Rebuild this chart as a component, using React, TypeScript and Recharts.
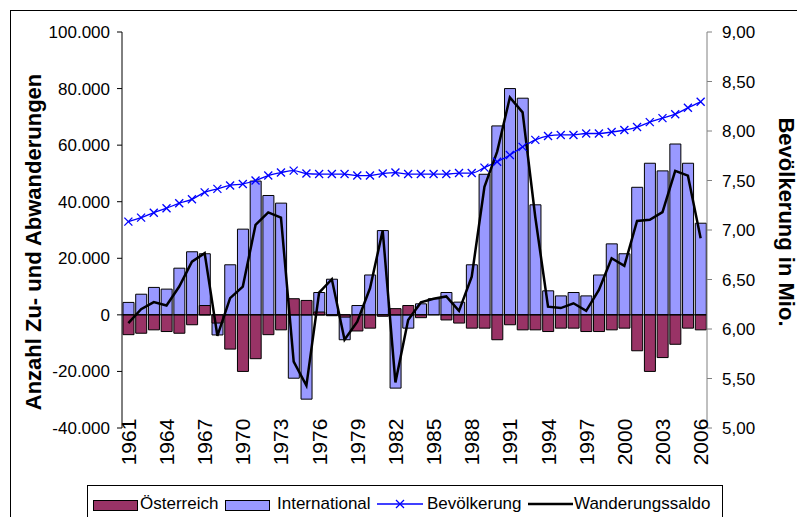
import React from "react";
import {
  ComposedChart,
  Bar,
  Line,
  XAxis,
  YAxis,
  ReferenceLine,
} from "recharts";

// Jahre 1961-2006
const years = [
  1961, 1962, 1963, 1964, 1965, 1966, 1967, 1968, 1969, 1970,
  1971, 1972, 1973, 1974, 1975, 1976, 1977, 1978, 1979, 1980,
  1981, 1982, 1983, 1984, 1985, 1986, 1987, 1988, 1989, 1990,
  1991, 1992, 1993, 1994, 1995, 1996, 1997, 1998, 1999, 2000,
  2001, 2002, 2003, 2004, 2005, 2006,
];

const oesterreich = [
  -7000, -6500, -5300, -5900, -6500, -3500, 3300, -2900, -12100, -20000,
  -15500, -7000, -5300, 5700, 5100, 1000, -300, -800, -5700, -4700,
  -500, 2200, 3300, -1000, 0, -1800, -2900, -4700, -4700, -8800,
  -3500, -5300, -5300, -5900, -4700, -4700, -5900, -5900, -5300, -4700,
  -12700, -20000, -15100, -10400, -4700, -5300,
];

const international = [
  4400, 7300, 9700, 9100, 16500, 22300, 21600, -7100, 17700, 30300,
  47300, 42200, 39500, -22400, -29800, 7900, 12600, -8800, 3300, 14100,
  29800, -25900, -4700, 3900, 5700, 7900, 4500, 17700, 49700, 66800,
  80000, 76600, 38900, 8500, 6700, 7900, 6700, 14100, 25100, 21600,
  45100, 53600, 50900, 60400, 53600, 32400,
];

const bevoelkerung = [
  7.085, 7.125, 7.175, 7.22, 7.27, 7.31, 7.38, 7.415, 7.45, 7.465,
  7.5, 7.55, 7.58, 7.6, 7.57, 7.565, 7.565, 7.565, 7.55, 7.55,
  7.57, 7.58, 7.565, 7.565, 7.565, 7.565, 7.575, 7.575, 7.63, 7.69,
  7.757, 7.84, 7.91, 7.95, 7.96, 7.96, 7.975, 7.975, 7.99, 8.01,
  8.04, 8.09, 8.13, 8.17, 8.235, 8.295,
];

const wanderungssaldo = [
  -2900, 2000, 4500, 3300, 10000, 18800, 21800, -7400, 5900, 10000,
  31800, 36200, 34400, -16500, -25000, 7900, 12600, -8800, -2400, 9400,
  29800, -23900, -1800, 4400, 5700, 6500, 1400, 13500, 45300, 57700,
  76900, 71600, 34500, 2900, 2400, 4100, 1400, 8800, 20000, 17300,
  33200, 33600, 36300, 50900, 49200, 27100,
];

const leftTicks = [-40000, -20000, 0, 20000, 40000, 60000, 80000, 100000];
const rightTicks = [5, 5.5, 6, 6.5, 7, 7.5, 8, 8.5, 9];

const data = years.map((y, i) => ({
  year: y,
  oesterreich: oesterreich[i],
  international: international[i],
  bevoelkerung: bevoelkerung[i],
  saldo: wanderungssaldo[i],
}));

const FONT = "'Liberation Sans', Arial, sans-serif";
const MAROON = "#993366";
const LILAC = "#9999FF";
const BLUE = "#0000FF";

const fmtLeft = (v: number) =>
  String(v).replace(/\B(?=(\d{3})+(?!\d))/g, ".");
const fmtRight = (v: number) => v.toFixed(2).replace(".", ",");

function YearTick({ x, y, payload }: any) {
  const cy = y + 6;
  return (
    <text
      x={x}
      y={cy}
      transform={`rotate(-90 ${x} ${cy})`}
      textAnchor="middle"
      dominantBaseline="central"
      fontSize={21}
      fontFamily={FONT}
      fill="#000"
    >
      {payload.value}
    </text>
  );
}

function CrossDot({ cx, cy }: any) {
  if (cx == null || cy == null) return null;
  const s = 4;
  return (
    <g stroke={BLUE} strokeWidth={1.3}>
      <line x1={cx - s} y1={cy - s} x2={cx + s} y2={cy + s} />
      <line x1={cx - s} y1={cy + s} x2={cx + s} y2={cy - s} />
    </g>
  );
}

function LeftTitle() {
  return (
    <text
      x={33}
      y={242}
      transform="rotate(-90 33 242)"
      textAnchor="middle"
      dominantBaseline="central"
      fontSize={22}
      fontWeight="bold"
      fontFamily={FONT}
      fill="#000"
    >
      Anzahl Zu- und Abwanderungen
    </text>
  );
}

function RightTitle() {
  return (
    <text
      x={786}
      y={222}
      transform="rotate(90 786 222)"
      textAnchor="middle"
      dominantBaseline="central"
      fontSize={22}
      fontWeight="bold"
      fontFamily={FONT}
      fill="#000"
    >
      Bevölkerung in Mio.
    </text>
  );
}

function ChartLegend() {
  const txt: React.CSSProperties = {
    position: "absolute",
    top: 8,
    fontSize: 17,
    fontFamily: FONT,
    lineHeight: "20px",
    whiteSpace: "nowrap",
  };
  const swatch = (left: number, color: string): React.CSSProperties => ({
    position: "absolute",
    left,
    top: 14,
    width: 43,
    height: 9,
    background: color,
    border: "1px solid #000",
  });
  return (
    <div
      style={{
        position: "absolute",
        left: 87,
        top: 485,
        width: 634,
        height: 50,
        border: "1px solid #000",
        background: "#fff",
      }}
    >
      <div style={swatch(5, MAROON)} />
      <div style={{ ...txt, left: 52 }}>Österreich</div>
      <div style={swatch(137, LILAC)} />
      <div style={{ ...txt, left: 189 }}>International</div>
      <svg style={{ position: "absolute", left: 289, top: 8 }} width={48} height={20}>
        <line x1={0} y1={10} x2={46} y2={10} stroke={BLUE} strokeWidth={1.3} />
        <CrossDot cx={23} cy={10} />
      </svg>
      <div style={{ ...txt, left: 339 }}>Bevölkerung</div>
      <svg style={{ position: "absolute", left: 440, top: 8 }} width={46} height={20}>
        <line x1={0} y1={10} x2={45} y2={10} stroke="#000" strokeWidth={2.5} />
      </svg>
      <div style={{ ...txt, left: 486 }}>Wanderungssaldo</div>
    </div>
  );
}

export default function App() {
  return (
    <div
      style={{
        position: "absolute",
        left: 0,
        top: 0,
        width: 797,
        height: 517,
        overflow: "hidden",
        background: "#fff",
      }}
    >
      <div
        style={{
          position: "absolute",
          left: 10,
          top: 10,
          width: 800,
          height: 520,
          border: "1px solid #000",
        }}
      />
      <div style={{ position: "absolute", left: 0, top: 0 }}>
        <ComposedChart
          width={797}
          height={517}
          data={data}
          margin={{ top: 32, right: 0, bottom: 0, left: 12 }}
          barGap={0}
        >
          <XAxis
            xAxisId="a"
            dataKey="year"
            interval={2}
            height={89}
            axisLine={false}
            tickLine={false}
            tick={<YearTick />}
          />
          <XAxis xAxisId="b" dataKey="year" hide />
          <YAxis
            yAxisId="left"
            width={110}
            domain={[-40000, 100000]}
            ticks={leftTicks}
            tickFormatter={fmtLeft}
            tickSize={5}
            tickMargin={7}
            stroke="#000"
            tick={{ fontSize: 17, fontFamily: FONT, fill: "#000" }}
            label={<LeftTitle />}
          />
          <YAxis
            yAxisId="right"
            orientation="right"
            width={90}
            domain={[5, 9]}
            ticks={rightTicks}
            tickFormatter={fmtRight}
            tickSize={5}
            tickMargin={10}
            stroke="#808080"
            tick={{ fontSize: 17, fontFamily: FONT, fill: "#000" }}
            label={<RightTitle />}
          />
          <Bar
            xAxisId="a"
            yAxisId="left"
            dataKey="international"
            name="International"
            fill={LILAC}
            stroke="#000"
            strokeWidth={1}
            barSize={11}
            isAnimationActive={false}
          />
          <Bar
            xAxisId="b"
            yAxisId="left"
            dataKey="oesterreich"
            name="Österreich"
            fill={MAROON}
            stroke="#000"
            strokeWidth={1}
            barSize={11}
            isAnimationActive={false}
          />
          <ReferenceLine xAxisId="a" yAxisId="left" y={0} stroke="#000" strokeWidth={1} />
          <Line
            xAxisId="a"
            yAxisId="right"
            type="monotone"
            dataKey="bevoelkerung"
            name="Bevölkerung"
            stroke={BLUE}
            strokeWidth={1.3}
            dot={<CrossDot />}
            activeDot={false}
            isAnimationActive={false}
          />
          <Line
            xAxisId="a"
            yAxisId="left"
            type="linear"
            dataKey="saldo"
            name="Wanderungssaldo"
            stroke="#000"
            strokeWidth={2.5}
            dot={false}
            activeDot={false}
            isAnimationActive={false}
          />
        </ComposedChart>
      </div>
      <ChartLegend />
    </div>
  );
}
